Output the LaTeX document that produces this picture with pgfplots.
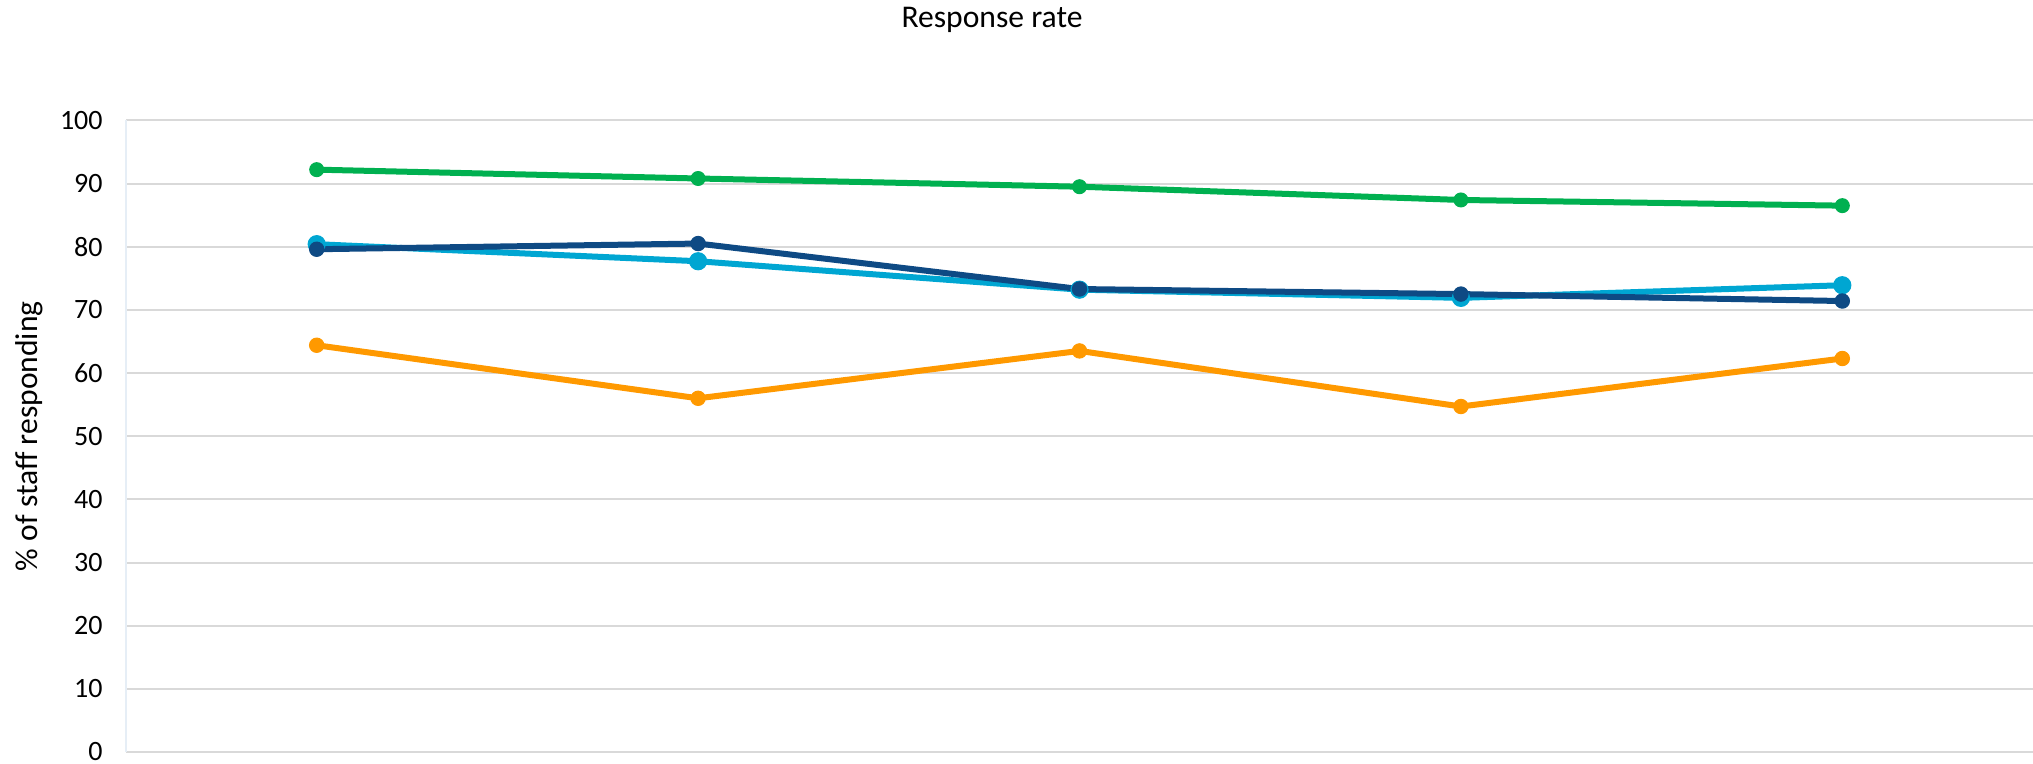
\documentclass[border=0pt]{standalone}
\usepackage{fontspec}
\setmainfont{Carlito}
\usepackage{pgfplots}
\pgfplotsset{compat=1.18}
\definecolor{cgreen}{HTML}{00B050}
\definecolor{clblue}{HTML}{00A6D2}
\definecolor{cdblue}{HTML}{0E4A84}
\definecolor{corange}{HTML}{FF9900}
\definecolor{cgrid}{HTML}{D9D9D9}
\definecolor{cyaxis}{HTML}{E6EEF6}
\begin{document}
\begin{tikzpicture}
\useasboundingbox (0,0) rectangle (1016.5pt,382pt);
\begin{axis}[at={(63pt,6pt)}, anchor=south west, scale only axis,
  width=953.5pt, height=315.8pt,
  xmin=-0.5, xmax=4.5, ymin=0, ymax=100,
  ytick={0,10,...,100}, xtick=\empty,
  ymajorgrids, grid style={cgrid, line width=1pt},
  axis lines*=left,
  x axis line style={cgrid, line width=1pt},
  y axis line style={color=cyaxis, line width=1pt},
  major tick length=0pt,
  /pgf/number format/assume math mode=true,
  yticklabel style={font=\fontsize{14}{14}\selectfont, inner sep=0pt, xshift=-11.5pt},
  ylabel={\% of staff responding},
  ylabel style={at={(axis description cs:-0.051,0.5)}, anchor=center, font=\fontsize{15.8}{16}\selectfont},
  clip=false,
  every axis plot/.append style={line width=3pt, mark=*},
]
\addplot[color=cgreen, mark size=3.5pt, mark options={line width=0.5pt}] coordinates {(0,92.2) (1,90.8) (2,89.5) (3,87.4) (4,86.5)};
\addplot[color=clblue, mark size=4.3pt, mark options={line width=0.5pt}] coordinates {(0,80.4) (1,77.7) (2,73.2) (3,71.9) (4,73.9)};
\addplot[color=cdblue, mark size=3.6pt, mark options={line width=0.5pt}] coordinates {(0,79.6) (1,80.5) (2,73.3) (3,72.5) (4,71.4)};
\addplot[color=corange, mark size=3.6pt, mark options={line width=0.5pt}] coordinates {(0,64.4) (1,56.0) (2,63.5) (3,54.7) (4,62.3)};
\end{axis}
\node[font=\fontsize{15.8}{16}\selectfont] at (496pt,371.8pt) {Response rate};
\end{tikzpicture}
\end{document}
